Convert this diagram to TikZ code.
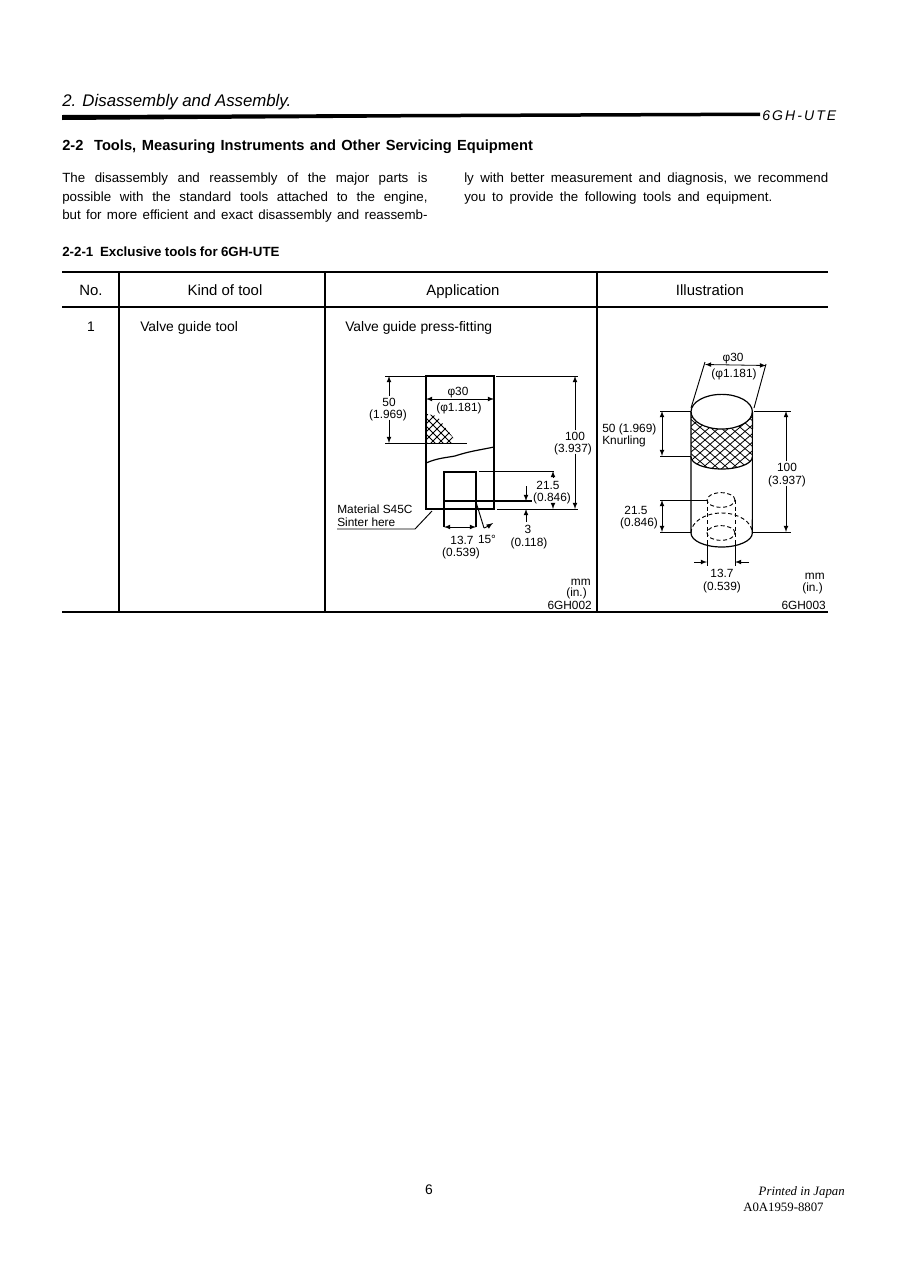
\documentclass[tikz,border=0pt]{standalone}
\usepackage{fontspec}
\setmainfont{Liberation Sans}
\newfontfamily\printfont{Liberation Serif}
\usetikzlibrary{positioning, arrows}
\tikzset{T/.style={inner sep=0pt, text height=8.5pt, text depth=1pt, font=\fontsize{10.4pt}{12pt}\selectfont},
  TH/.style={T, font=\fontsize{11.2pt}{13pt}\selectfont},
  TL/.style={T, anchor=west},
  P/.style={TL, font=\fontsize{10pt}{12pt}\selectfont},
  H/.style={inner sep=0pt, anchor=west, font=\fontsize{10pt}{12pt}\selectfont\bfseries},
  D/.style={inner sep=0pt, text height=7pt, text depth=1pt, font=\fontsize{8.9pt}{10pt}\selectfont},
  DL/.style={D, anchor=west},
  DR/.style={D, anchor=east},
  ln/.style={line width=0.9pt},
  thn/.style={line width=0.7pt},
  dim/.style={line width=0.6pt, <->},
  dimend/.style={line width=0.6pt, ->},
  hatch/.style={line width=0.6pt},
  hid/.style={line width=0.7pt, dash pattern=on 3pt off 2pt}}
\newcommand{\fitline}[2]{\makebox[#1][s]{#2}}
\begin{document}
\begin{tikzpicture}[-, >=latex, x=0.75pt, y=-0.75pt]
\useasboundingbox (0,0) rectangle (915,1285);
% page head
\node (head) [inner sep=0pt, anchor=west, font=\fontsize{12.6pt}{14pt}\selectfont\itshape] at (62,102) {2. Disassembly and Assembly.};
\node (model) [inner sep=0pt, anchor=west, font=\fontsize{10.5pt}{13pt}\selectfont\itshape] at (762,116) {\makebox[55.5pt][s]{6\hfil G\hfil H\hfil -\hfil U\hfil T\hfil E}};
\fill (62,115) -- (400,114) -- (760,112.5) -- (760,116) -- (400,117.5) -- (62,120) -- cycle;
% headings and text
\node (title) [H, font=\fontsize{11pt}{13pt}\selectfont\bfseries] at (62,147) {\fitline{353pt}{2-2\ \ Tools, Measuring Instruments and Other Servicing Equipment}};
\node (p1) [P] at (62,177) {\fitline{274pt}{The disassembly and reassembly of the major parts is}};
\node (p2) [P] at (62,196) {\fitline{274pt}{possible with the standard tools attached to the engine,}};
\node (p3) [P] at (62,214) {\fitline{274pt}{but for more efficient and exact disassembly and reassemb-}};
\node (q1) [P] at (464,177) {\fitline{273pt}{ly with better measurement and diagnosis, we recommend}};
\node (q2) [P] at (464,196) {\fitline{231pt}{you to provide the following tools and equipment.}};
\node (sub) [H] at (62,252) {\fitline{163pt}{2-2-1\ \ Exclusive tools for 6GH-UTE}};
% table
\draw[ln] (62,272) -- (828,272);
\draw[ln] (62,307) -- (828,307);
\draw[ln] (62,612) -- (828,612);
\foreach \x in {119,325,597} \draw[ln] (\x,272) -- (\x,612);
\node (no) [TH] at (91,290) {No.};
\node (kind) [TH] at (225,290) {Kind of tool};
\node (appl) [TH] at (463,290) {Application};
\node (illu) [TH] at (710,290) {Illustration};
\node (one) [T] at (91,326) {1};
\node (valve) [TL] at (140,326) {Valve guide tool};
\node (press) [TL] at (345,326) {Valve guide press-fitting};
% section drawing
\draw[ln] (426,376) rectangle (494,509);
\draw[ln] (426,463) .. controls (438,458) and (444,458) .. (455,456) .. controls (470,451) and (480,450) .. (494,447);
\draw[ln] (444,527) -- (444,472) -- (476,472) -- (476,527);
\draw[ln] (444,501) -- (532,501);
\draw[thn] (385,376) -- (425,376);
\draw[thn] (385,443) -- (467,443);
\draw[thn] (496,376) -- (578,376);
\draw[thn] (497,509) -- (578,509);
\draw[thn] (479,471) -- (554,471);
\begin{scope}
\clip (427,414) -- (437,416) -- (457,443) -- (427,443) -- cycle;
\foreach \i in {-30,-22,...,50} {
  \draw[hatch] (\i+400,410) -- ++(40,40);
  \draw[hatch] (\i+430,410) -- ++(-40,40);
}
\end{scope}
% section dimensions
\node (d50) [D] at (389,402) {50};
\node (d1969) [D] at (388,414) {(1.969)};
\coordinate (d50a) at (389,376);
\coordinate (d50b) at (389,443);
\draw[dimend] (d50a |- d50.north) -- (d50a);
\draw[dimend] (d50b |- d1969.south) -- (d50b);
\node (s30) [D] at (458,391) {φ30};
\node (s1181) [D] at (459,407) {(φ1.181)};
\coordinate (s30a) at (426,399);
\coordinate (s30b) at (494,399);
\draw[dim] (s30a) -- (s30b);
\node (d100) [D] at (575,436) {100};
\node (d3937) [D] at (573,448) {(3.937)};
\coordinate (d100a) at (575,376);
\coordinate (d100b) at (575,509);
\draw[dimend] (d100a |- d100.north) -- (d100a);
\draw[dimend] (d100b |- d3937.south) -- (d100b);
\node (d215) [D] at (548,485) {21.5};
\node (d846) [D] at (552,497) {(0.846)};
\coordinate (d215a) at (553,471);
\coordinate (d215b) at (553,509);
\draw[dimend] (553,477) -- (d215a);
\draw[dimend] (553,504) -- (d215b);
\node (d3) [D] at (528,529) {3};
\node (d118) [D] at (529,542) {(0.118)};
\coordinate (d3a) at (526,501);
\coordinate (d3b) at (526,509);
\draw[dimend] (526,486) -- (d3a);
\draw[dimend] (526,522) -- (d3b);
\coordinate (h137a) at (444,527);
\coordinate (h137b) at (476,527);
\draw[dim] (h137a) -- (h137b);
\node (d137) [D] at (462,540) {13.7};
\node (d539) [D] at (461,552) {(0.539)};
\draw[thn] (476,502) -- (484,528);
\draw[thn,->] (484,528) .. controls (487,527) and (490,525) .. (493,523);
\node (d15) [D] at (487,539) {15°};
\node (mat) [DL] at (337,509) {Material S45C};
\node (sint) [DL] at (337,522) {Sinter here};
\draw[thn] (337,529) -- (415,529) -- (432,511);
\node (mm1) [DR] at (591,581) {mm};
\node (in1) [DR] at (587,592) {(in.)};
\node (code1) [DR] at (592,605) {6GH002};
% tool view
\draw[ln] (721.7,411.7) ellipse [x radius=23pt, y radius=13pt];
\draw[ln] (691,412) -- (691,533) arc [start angle=180, end angle=360, x radius=23pt, y radius=10.5pt] -- (752.4,412);
\draw[ln] (691,457) arc [start angle=180, end angle=360, x radius=23pt, y radius=9pt];
\begin{scope}
\clip (691,412) arc [start angle=180, end angle=360, x radius=23pt, y radius=13pt] -- (752.4,457) arc [start angle=360, end angle=180, x radius=23pt, y radius=9pt] -- cycle;
\foreach \i in {-60,-50,...,70} {
  \draw[hatch] (\i+680,410) -- ++(70,60);
  \draw[hatch] (\i+750,410) -- ++(-70,60);
}
\end{scope}
\draw[hid] (721,500) ellipse [x radius=10.5pt, y radius=5.5pt];
\draw[hid] (721,533) ellipse [x radius=10.5pt, y radius=5.5pt];
\draw[hid] (707,500) -- (707,540);
\draw[hid] (735,500) -- (735,540);
\draw[hid] (691,533) arc [start angle=180, end angle=0, x radius=23pt, y radius=15pt];
% view dimensions
\draw[thn] (691,408) -- (705,362);
\draw[thn] (754,408) -- (766,364);
\coordinate (v30a) at (705,364.5);
\coordinate (v30b) at (766,365.5);
\draw[dim] (v30a) -- (v30b);
\node (v30) [D] at (733,357) {φ30};
\node (v1181) [D] at (734,373) {(φ1.181)};
\draw[thn] (660,411) -- (691,411);
\draw[thn] (660,456) -- (691,456);
\draw[thn] (754,411) -- (791,411);
\draw[thn] (753,532) -- (791,532);
\draw[thn] (660,500) -- (707,500);
\draw[thn] (660,532) -- (691,532);
\coordinate (k50a) at (662,411);
\coordinate (k50b) at (662,456);
\draw[dim] (k50a) -- (k50b);
\node (k50) [DL] at (602,428) {50 (1.969)};
\node (knur) [DL] at (602,440) {Knurling};
\node (v100) [D] at (787,467) {100};
\node (v3937) [D] at (787,480) {(3.937)};
\coordinate (v100a) at (786,411);
\coordinate (v100b) at (786,532);
\draw[dimend] (v100a |- v100.north) -- (v100a);
\draw[dimend] (v100b |- v3937.south) -- (v100b);
\coordinate (v215a) at (662,500);
\coordinate (v215b) at (662,532);
\draw[dim] (v215a) -- (v215b);
\node (v215) [D] at (636,510) {21.5};
\node (v846) [D] at (639,522) {(0.846)};
\draw[thn] (707,540) -- (707,566);
\draw[thn] (735,540) -- (735,566);
\coordinate (v137a) at (707,562);
\coordinate (v137b) at (735,562);
\draw[dimend] (694,562) -- (v137a);
\draw[dimend] (749,562) -- (v137b);
\node (v137) [D] at (722,573) {13.7};
\node (v539) [D] at (722,586) {(0.539)};
\node (mm2) [DR] at (825,575) {mm};
\node (in2) [DR] at (823,587) {(in.)};
\node (code2) [DR] at (826,605) {6GH003};
% page foot
\node (page) [T] at (429,1189) {6};
\node (print) [inner sep=0pt, anchor=east, font=\printfont\itshape\fontsize{9.6pt}{11pt}\selectfont] at (845,1192) {Printed in Japan};
\node (ref) [inner sep=0pt, anchor=west, font=\printfont\fontsize{9.6pt}{11pt}\selectfont] at (743,1207) {A0A1959-8807};
\end{tikzpicture}
\end{document}
